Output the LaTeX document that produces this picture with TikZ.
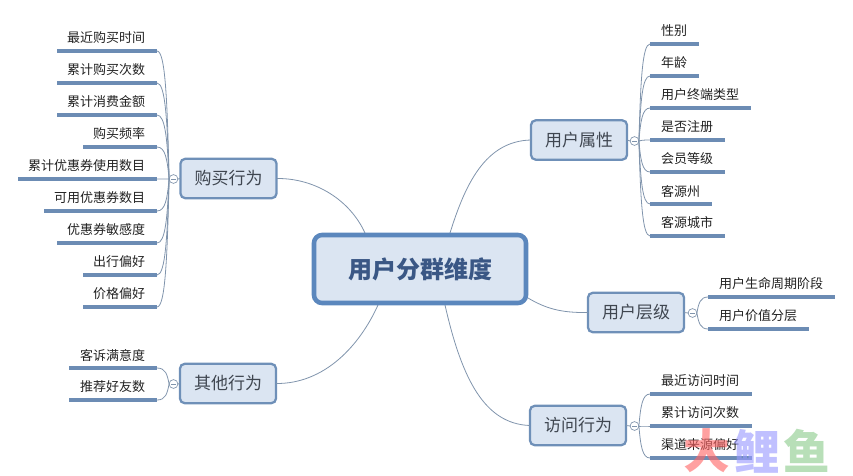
\documentclass[tikz,border=0pt]{standalone}
\usepackage{fontspec}
\usetikzlibrary{calc}
\setmainfont{Noto Sans CJK SC}
\definecolor{boxfill}{HTML}{DBE5F2}
\definecolor{boxline}{HTML}{6F90B8}
\definecolor{rootline}{HTML}{5B87BD}
\definecolor{roottext}{HTML}{3A5785}
\definecolor{branchtext}{HTML}{3F4650}
\definecolor{leaftext}{HTML}{222222}
\definecolor{rulecol}{HTML}{6C8CB4}
\definecolor{linkcol}{HTML}{8094AC}
\tikzset{
  x=0.75pt,y=-0.75pt,
  branch/.style={draw=boxline,line width=1.7pt,fill=boxfill,rounded corners=3.5pt,minimum width=72pt,minimum height=29.5pt,inner sep=0pt,outer sep=0pt,text=branchtext,font=\fontsize{12.75}{14}\selectfont},
  rootbox/.style={draw=rootline,line width=3.4pt,fill=boxfill,rounded corners=6pt,minimum width=159pt,minimum height=51pt,inner sep=0pt,outer sep=0pt,text=roottext,font=\fontsize{18}{20}\selectfont\bfseries},
  leaftxt/.style={inner sep=0pt,outer sep=0pt,text=leaftext,font=\fontsize{9.75}{11}\selectfont},
  rulebar/.style={draw=rulecol,line width=2.6pt},
  link/.style={draw=linkcol,line width=0.6pt},
  toggle/.style={circle,draw=linkcol,fill=white,line width=0.5pt,minimum size=6.6pt,inner sep=0pt,outer sep=0pt},
  minusbar/.style={draw=linkcol,line width=0.5pt},
  wmark/.style={inner sep=0pt,outer sep=0pt,font=\fontsize{35}{37}\selectfont\bfseries,opacity=0.62}
}
% name, text, rule start x, far end x, y, toggle
\newcommand{\bend}[2]{%
  \coordinate (#2p) at ($(#1)!.15!(#2s)$);
  \coordinate (#2q) at ($(#1)!.6!(#2s)$);
  \coordinate (#2u) at ($(#1)!.3!(#2s)$);
  \draw[link] (#1) .. controls (#2p |- #2q) and (#2u |- #2s) .. (#2s);}
\newcommand{\leafR}[6]{%
  \coordinate (#1s) at (#3,#5);\coordinate (#1e) at (#4,#5);
  \bend{#6.east}{#1}
  \draw[rulebar] (#1s) -- (#1e);
  \node[leaftxt,anchor=west] (#1) at (#3+11,#5-13) {#2};}
\newcommand{\leafL}[6]{%
  \coordinate (#1s) at (#3,#5);\coordinate (#1e) at (#4,#5);
  \bend{#6.west}{#1}
  \draw[rulebar] (#1s) -- (#1e);
  \node[leaftxt,anchor=east] (#1) at (#3-12,#5-13) {#2};}
\newcommand{\togglemark}[1]{\draw[minusbar] ($(#1.center)+(-2.5,0)$) -- ($(#1.center)+(2.5,0)$);}
\newcommand{\lowered}[2]{\raisebox{-#1}{#2}}
\begin{document}
\begin{tikzpicture}
\useasboundingbox (0,0) rectangle (853,475);
\node[toggle] (tA) at (634.5,141) {};
\node[toggle] (tB) at (692.5,313) {};
\node[toggle] (tC) at (634.5,426) {};
\node[toggle] (tD) at (173.5,179) {};
\node[toggle] (tE) at (173.5,384) {};
\leafR{a1}{性别}{650}{699}{44}{tA}
\leafR{a2}{年龄}{650}{699}{76}{tA}
\leafR{a3}{用户终端类型}{650}{751}{108}{tA}
\leafR{a4}{是否注册}{650}{725}{140}{tA}
\leafR{a5}{会员等级}{650}{725}{172}{tA}
\leafR{a6}{客源州}{650}{712}{204}{tA}
\leafR{a7}{客源城市}{650}{725}{236}{tA}
\leafR{b1}{用户生命周期阶段}{708}{835}{297}{tB}
\leafR{b2}{用户价值分层}{708}{809}{329}{tB}
\leafR{c1}{最近访问时间}{650}{752}{394}{tC}
\leafR{c2}{累计访问次数}{650}{752}{426}{tC}
\leafR{c3}{渠道来源偏好}{650}{752}{458}{tC}
\leafL{d1}{最近购买时间}{157}{57}{51}{tD}
\leafL{d2}{累计购买次数}{157}{57}{83}{tD}
\leafL{d3}{累计消费金额}{157}{57}{115}{tD}
\leafL{d4}{购买频率}{157}{83}{147}{tD}
\leafL{d5}{累计优惠券使用数目}{157}{18}{179}{tD}
\leafL{d6}{可用优惠券数目}{157}{44}{211}{tD}
\leafL{d7}{优惠券敏感度}{157}{57}{243}{tD}
\leafL{d8}{出行偏好}{157}{83}{275}{tD}
\leafL{d9}{价格偏好}{157}{83}{307}{tD}
\leafL{e1}{客诉满意度}{157}{69}{368}{tE}
\leafL{e2}{推荐好友数}{157}{69}{400}{tE}
\node[branch] (A) at (579,140) {\lowered{1.8pt}{用户属性}};
\node[branch] (B) at (636,312.5) {\lowered{1.8pt}{用户层级}};
\node[branch] (C) at (578,425.5) {\lowered{1.8pt}{访问行为}};
\node[branch] (D) at (228.5,178.5) {\lowered{1.8pt}{购买行为}};
\node[branch] (E) at (228,383.5) {\lowered{1.8pt}{其他行为}};
\coordinate (r1) at (365,233);
\coordinate (r2) at (450,233);
\coordinate (r3) at (528,298);
\coordinate (r4) at (445,305);
\coordinate (r5) at (378,305);
\draw[link] (A.west) .. controls (485,141) and (465,185) .. (r2);
\draw[link] (B.west) .. controls (560,313) and (545,308) .. (r3);
\draw[link] (C.west) .. controls (485,424) and (462,380) .. (r4);
\draw[link] (D.east) .. controls (315,178) and (350,200) .. (r1);
\draw[link] (E.east) .. controls (325,384) and (360,345) .. (r5);
\node[rootbox] (root) at (420,269) {\lowered{0.8pt}{用户分群维度}};
\draw[link] (A.east) -- (tA.west);
\draw[link] (B.east) -- (tB.west);
\draw[link] (C.east) -- (tC.west);
\draw[link] (D.west) -- (tD.east);
\draw[link] (E.west) -- (tE.east);
\togglemark{tA}\togglemark{tB}\togglemark{tC}\togglemark{tD}\togglemark{tE}
\node[wmark,text=red!60!white] (w1) at (707,451) {大};
\node[wmark,text=blue!40!white] (w2) at (757,451) {鲤};
\node[wmark,text=green!55!black!45!white] (w3) at (807,451) {鱼};
\end{tikzpicture}
\end{document}
